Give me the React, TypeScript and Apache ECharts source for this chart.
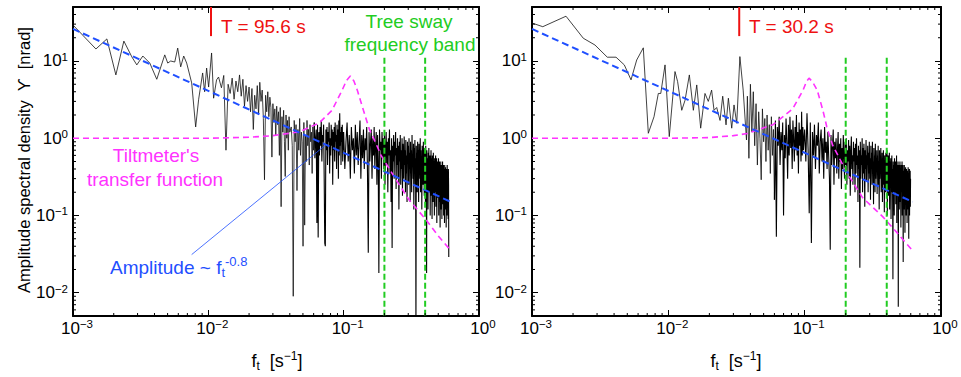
import React, { useEffect, useRef } from 'react';
import * as echarts from 'echarts';

const X_MIN = 0.001;
const X_MAX = 1;
const Y_MIN = 0.005;
const Y_MAX = 50;

// ---- Left panel spectrum (T = 95.6 s) ----
const LEFT_LOW: [number, number][] = [
  [0.001, 29.2], [0.001477, 14.3], [0.00178, 19.3], [0.002074, 6.6], [0.002376, 18.1],
  [0.002721, 11.3], [0.002962, 8.9], [0.00328, 11.6], [0.003693, 9.4], [0.004159, 5.8],
  [0.004764, 12.0], [0.005012, 9.4], [0.005272, 10], [0.005646, 9.7], [0.005939, 14.7],
  [0.006249, 8.4], [0.006577, 11.6], [0.006918, 9.4], [0.007534, 5.2], [0.00806, 1.4],
  [0.008483, 3.2], [0.009078, 7.0], [0.009391, 4.0], [0.009716, 8.1], [0.01005, 4.6],
  [0.01057, 12.7], [0.01094, 3.3], [0.0115, 5.7], [0.0119, 6.2],
];
const LEFT_MID_START = 0.0125;
const LEFT_MID_STEP = 0.0005;
const LEFT_MID = [
  4.5, 6.5, 0.7, 5.0, 3.8, 6.0, 3.2, 5.5, 4.0, 6.6,
  3.5, 5.8, 2.6, 4.8, 3.0, 4.6, 2.2, 4.4, 1.3, 3.6,
  2.4, 4.8, 2.0, 5.3, 3.0, 4.2, 1.8, 0.29, 3.6, 2.2,
  4.0, 1.9, 3.4, 2.5, 0.57, 2.8, 1.6, 2.4, 1.1, 2.6,
  1.5, 2.2, 0.6, 2.5, 0.13, 1.9, 1.2, 2.3, 0.9, 0.32,
  2.0, 1.0, 1.7, 0.7, 1.9, 1.2,
];
const LEFT_UP_START = 0.041;
const LEFT_UP_STEP = 0.0007;
const LEFT_UP = [
  1.4, 0.8, 0.009, 1.7, 0.9, 1.5, 0.21, 1.3, 0.7, 1.8,
  0.6, 1.2, 0.9, 0.04, 1.6, 0.075, 1.1, 0.5, 1.7, 0.8,
  1.3, 0.45, 1.5, 0.9, 1.2, 0.35, 1.4, 0.7, 1.6, 0.55,
  1.0, 1.3, 0.08, 1.5, 0.052, 1.2, 0.6, 1.4, 0.8, 1.7,
  0.5, 1.1, 0.9, 1.5, 0.3, 0.044, 0.04, 1.3, 0.7, 1.4,
  0.45, 1.2, 0.9, 1.6, 0.35, 1.0, 0.6, 1.5, 0.8, 1.3,
  0.25, 1.2, 0.7, 1.4, 0.5, 1.6, 0.9, 1.1, 0.4, 1.5,
  0.7, 1.3, 0.3, 1.7, 0.6, 2.1, 0.8, 1.2, 0.45, 1.4,
  0.9, 1.5, 0.5, 1.2, 0.7,
];
const LEFT_HIGH_START = 0.1;
const LEFT_HIGH_STEP = 0.002;
const LEFT_HIGH = [
  1.2, 0.4, 0.9, 1.6, 0.5, 1.1, 0.3, 1.4, 0.7, 1.0, 0.35, 1.5, 0.6, 1.2, 0.45, 0.9, 1.7, 0.3, 1.1, 0.55, 1.3, 0.4, 1.0, 0.7, 1.4,
  0.35, 0.033, 1.2, 0.5, 0.9, 1.3, 0.3, 1.0, 0.6, 1.4, 0.4, 0.8, 1.2, 0.25, 1.1, 0.5, 0.018, 1.3, 0.7, 0.9, 0.3, 1.2, 0.55, 1.0, 0.4,
  1.1, 0.25, 0.8, 1.2, 0.45, 0.9, 0.2, 1.0, 0.6, 1.3, 0.35, 0.7, 0.15, 1.0, 0.038, 0.8, 0.5, 1.1, 0.3, 0.9, 0.6, 1.2, 0.22, 0.75, 0.45,
  1.0, 0.3, 0.8, 0.12, 0.9, 0.5, 1.1, 0.25, 0.7, 0.4, 1.0, 0.18, 0.85, 0.55, 0.3, 1.05, 0.45, 0.7, 0.2, 0.95, 0.35, 0.6, 0.15, 0.9, 0.5,
  0.8, 0.25, 1.0, 0.4, 0.65, 0.15, 0.9, 0.35, 0.7, 0.2, 1.1, 0.45, 0.6, 0.3, 0.85, 0.12, 0.75, 0.4, 0.95, 0.25, 0.55, 0.003, 0.8, 0.35, 0.65,
  0.2, 0.9, 0.4, 0.7, 0.15, 0.85, 0.3, 0.6, 0.45, 1.0, 0.2, 0.7, 0.35, 0.55, 0.12, 0.8, 0.4, 0.65, 0.25, 0.9, 0.3, 0.5, 0.18, 0.75, 0.4,
  0.6, 0.15, 0.8, 0.3, 0.5, 0.018, 0.7, 0.25, 0.55, 0.4, 0.12, 0.65, 0.3, 0.75, 0.2, 0.45, 0.35, 0.6, 0.1, 0.5, 0.28, 0.7, 0.18, 0.55, 0.35,
  0.09, 0.6, 0.3, 0.45, 0.15, 0.65, 0.25, 0.5, 0.4, 0.1, 0.55, 0.2, 0.45, 0.3, 0.6, 0.13, 0.4, 0.25, 0.55, 0.08, 0.45, 0.3, 0.5, 0.17, 0.4,
  0.25, 0.55, 0.1, 0.4, 0.3, 0.5, 0.15, 0.45, 0.07, 0.35, 0.22, 0.5, 0.12, 0.4, 0.28, 0.45, 0.09, 0.38, 0.2, 0.5, 0.14, 0.33, 0.25, 0.45, 0.1,
  0.4, 0.2, 0.35, 0.08, 0.45, 0.25, 0.3, 0.12, 0.42, 0.18, 0.35, 0.07, 0.4, 0.22, 0.3, 0.1, 0.45, 0.2, 0.33, 0.13, 0.38, 0.09, 0.4, 0.25, 0.029,
];

// ---- Right panel spectrum (T = 30.2 s) ----
const RIGHT_LOW: [number, number][] = [
  [0.001, 31], [0.0012, 27.8], [0.001776, 38], [0.002378, 19.7], [0.002897, 16.1],
  [0.003567, 11.2], [0.004134, 11.2], [0.004754, 8.9], [0.005325, 5.7], [0.005861, 10.3],
  [0.006553, 14.8], [0.007131, 1.16], [0.007853, 1.9], [0.008445, 3.8], [0.0088, 3.8],
  [0.00946, 8.9], [0.01016, 1.05], [0.01119, 7.3], [0.0117, 5.4], [0.01254, 2.3],
  [0.01326, 3.1], [0.01426, 6.6], [0.01526, 2.3], [0.01616, 4.9], [0.01727, 1.35],
  [0.01857, 3.8], [0.01964, 3.0], [0.02077, 4.2], [0.02164, 2.3], [0.02263, 2.5],
  [0.02395, 1.7], [0.02505, 3.5], [0.0265, 1.49], [0.02757, 3.3], [0.02917, 1.35],
  [0.03033, 2.7], [0.03176, 1.56], [0.03348, 11.4], [0.0354, 4.2], [0.03743, 0.95],
];
const RIGHT_UP_START = 0.038;
const RIGHT_UP_STEP = 0.001;
const RIGHT_UP = [
  3.5, 0.55, 5.0, 1.2, 4.0, 0.8, 2.8, 0.45, 2.2, 1.0,
  0.29, 2.4, 0.9, 1.8, 0.5, 2.0, 0.7, 1.5, 0.35, 1.9,
  0.6, 1.3, 0.16, 1.7, 0.053, 1.4, 0.8, 1.9, 0.45, 1.2,
  0.7, 1.6, 0.1, 1.1, 0.55, 1.8, 0.9, 0.3, 1.5, 0.6,
  1.9, 0.75, 1.3, 0.4, 1.7, 0.95, 0.5, 1.4, 0.7, 2.0,
  0.6, 1.2, 0.35, 1.6, 0.8, 1.3, 0.5, 2.2, 0.6, 1.4,
  0.7, 1.0,
];
const RIGHT_HIGH_START = 0.1;
const RIGHT_HIGH_STEP = 0.002;
const RIGHT_HIGH = [
  1.3, 0.5, 2.1, 0.7, 0.107, 1.6, 0.044, 1.2, 0.6, 1.5, 0.4, 1.1, 0.8, 1.6, 0.35, 0.9, 1.3, 0.5, 1.0, 0.3, 1.4, 0.65, 0.9, 0.4, 1.2,
  0.6, 0.3, 0.036, 1.1, 0.45, 0.8, 1.3, 0.25, 0.9, 0.55, 1.0, 0.35, 0.7, 1.2, 0.3, 0.85, 0.5, 1.0, 0.22, 0.75, 0.4, 1.1, 0.6, 0.3, 0.9,
  0.45, 1.0, 0.25, 0.7, 0.5, 0.95, 0.3, 0.8, 0.18, 0.65, 1.05, 0.4, 0.6, 0.25, 0.9, 0.5, 0.75, 0.2, 0.85, 0.35, 1.0, 0.45, 0.6, 0.15, 0.8,
  0.4, 0.7, 0.021, 0.9, 0.3, 0.6, 0.45, 1.0, 0.2, 0.75, 0.35, 0.85, 0.5, 0.13, 0.7, 0.4, 0.95, 0.28, 0.6, 0.45, 0.8, 0.2, 0.65, 0.35, 0.9,
  0.3, 0.55, 0.16, 0.8, 0.4, 0.65, 0.25, 0.9, 0.35, 0.5, 0.14, 0.75, 0.45, 0.6, 0.2, 0.85, 0.3, 0.55, 0.4, 0.7, 0.19, 0.6, 0.35, 0.8, 0.25,
  0.5, 0.12, 0.7, 0.3, 0.6, 0.4, 0.75, 0.2, 0.5, 0.35, 0.65, 0.15, 0.55, 0.3, 0.7, 0.25, 0.45, 0.11, 0.6, 0.35, 0.5, 0.2, 0.65, 0.3, 0.45,
  0.25, 0.7, 0.1, 0.5, 0.35, 0.6, 0.18, 0.45, 0.3, 0.65, 0.12, 0.5, 0.25, 0.4, 0.55, 0.09, 0.45, 0.3, 0.6, 0.2, 0.4, 0.14, 0.015, 0.5, 0.25,
  0.45, 0.33, 0.1, 0.55, 0.2, 0.4, 0.3, 0.5, 0.14, 0.42, 0.25, 0.6, 0.08, 0.38, 0.3, 0.45, 0.18, 0.5, 0.0066, 0.4, 0.22, 0.45, 0.12, 0.35, 0.28,
  0.5, 0.15, 0.4, 0.25, 0.07, 0.45, 0.2, 0.35, 0.3, 0.5, 0.1, 0.4, 0.18, 0.45, 0.025, 0.38, 0.25, 0.33, 0.12, 0.45, 0.2, 0.4, 0.06, 0.35, 0.22,
  0.42, 0.15, 0.3, 0.1, 0.4, 0.2, 0.35, 0.08, 0.38, 0.25, 0.3, 0.12, 0.42, 0.17, 0.33, 0.05, 0.35, 0.22, 0.4, 0.1, 0.3, 0.18, 0.38, 0.13, 0.3,
];

// ---- Overlays ----
const LEFT_TRANSFER: [number, number][] = [
  [0.001, 1], [0.01, 1], [0.02, 1.03], [0.03, 1.08], [0.047, 1.21], [0.066, 1.58],
  [0.082, 2.3], [0.0975, 4.2], [0.105, 5.6], [0.112, 6.4], [0.119, 5.5], [0.126, 4.2],
  [0.14, 2.3], [0.155, 1.3], [0.17, 0.92], [0.189, 0.6], [0.244, 0.29], [0.304, 0.16],
  [0.406, 0.088], [0.506, 0.053], [0.62, 0.035],
];
const RIGHT_TRANSFER: [number, number][] = [
  [0.001, 1], [0.01, 1], [0.02, 1.02], [0.03, 1.08], [0.0378, 1.15], [0.0587, 1.5],
  [0.0816, 2.4], [0.0974, 4.2], [0.103, 5.4], [0.1076, 6.0], [0.114, 5.4], [0.1236, 4.2],
  [0.136, 2.3], [0.1454, 1.4], [0.161, 0.8], [0.204, 0.36], [0.266, 0.17], [0.375, 0.096],
  [0.476, 0.06], [0.61, 0.036],
];
const POWER_LAW: [number, number][] = [[0.001, 26], [0.62, 0.15]];
const SWAY_BAND = [0.2, 0.4];
const SWAY_TOP = 11;
const PERIODS = [95.6, 30.2];
const PERIOD_MARK = [50, 21];
const POINTER_LINE: [number, number][] = [[0.00753, 0.0312], [0.0731, 0.81]];
const DENSE_FROM = 0.06;

const FONT = "'Liberation Sans', Arial, Helvetica, sans-serif";
const MAGENTA = '#ff33ff';
const BLUE = '#1f4fff';
const GREEN = '#22cc22';
const RED = '#ee1111';

function seq(start: number, step: number, values: number[]): [number, number][] {
  return values.map((v, i) => [+(start + i * step).toFixed(6), v]);
}

function minorList(kFrom: number, kTo: number, lo: number, hi: number): number[] {
  const out: number[] = [];
  for (let k = kFrom; k <= kTo; k++) {
    for (let m = 2; m <= 9; m++) {
      const v = m * Math.pow(10, k);
      if (v > lo * 1.0001 && v < hi * 0.9999) out.push(v);
    }
  }
  return out;
}

const X_MINOR = minorList(-3, -1, X_MIN, X_MAX);
const Y_MINOR = minorList(-3, 1, Y_MIN, Y_MAX);

const expLabel = (v: number) => {
  const e = Math.log10(v);
  const r = Math.round(e);
  if (Math.abs(e - r) > 1e-6) return '';
  const s = r < 0 ? '\u2212' + -r : String(r);
  return `{b|10}{s|${s}}`;
};

const labelRich = {
  b: { fontSize: 17, fontFamily: FONT, color: '#000', lineHeight: 20 },
  s: { fontSize: 11.5, fontFamily: FONT, color: '#000', lineHeight: 14, verticalAlign: 'top' },
};

function axisBase(gridIndex: number, min: number, max: number) {
  return {
    type: 'log',
    logBase: 10,
    gridIndex,
    min,
    max,
    splitLine: { show: false },
    axisLine: { show: true, onZero: false, lineStyle: { color: '#000', width: 2 } },
    axisTick: { show: true, inside: true, length: 6, lineStyle: { color: '#000', width: 1 } },
    minorTick: { show: false },
  };
}

function buildAxes(gridIndex: number) {
  const xs = [
    {
      ...axisBase(gridIndex, X_MIN, X_MAX),
      position: 'bottom',
      axisLabel: { show: true, margin: 2, padding: [0, 0, 0, 8], formatter: expLabel, rich: labelRich },
    },
    { ...axisBase(gridIndex, X_MIN, X_MAX), position: 'top', axisLabel: { show: false } },
  ];
  const ys = [
    {
      ...axisBase(gridIndex, Y_MIN, Y_MAX),
      position: 'left',
      axisLabel: { show: true, margin: 5, formatter: expLabel, rich: labelRich },
    },
    { ...axisBase(gridIndex, Y_MIN, Y_MAX), position: 'right', axisLabel: { show: false } },
  ];
  return { xs, ys };
}

function panelSeries(
  p: number,
  spectrum: [number, number][],
  transfer: [number, number][],
  period: number,
) {
  const xi = p * 2;
  const yi = p * 2;
  const base = { xAxisIndex: xi, yAxisIndex: yi, symbol: 'none', silent: true, animation: false };
  const cut = spectrum.findIndex((d) => d[0] >= DENSE_FROM);
  const sparse = spectrum.slice(0, cut + 1);
  const dense = spectrum.slice(cut);
  const out: any[] = [
    {
      ...base,
      type: 'line',
      data: sparse,
      lineStyle: { color: '#111', width: 0.8 },
      z: 2,
    },
    {
      ...base,
      type: 'line',
      data: dense,
      lineStyle: { color: '#000', width: 1.1 },
      z: 2,
    },
    {
      ...base,
      type: 'line',
      data: transfer,
      lineStyle: { color: MAGENTA, width: 1.6, type: [6, 4] },
      z: 3,
    },
    {
      ...base,
      type: 'line',
      data: POWER_LAW,
      lineStyle: { color: BLUE, width: 2, type: [7, 4] },
      z: 4,
    },
    ...SWAY_BAND.map((f) => ({
      ...base,
      type: 'line',
      data: [[f, SWAY_TOP], [f, Y_MIN]],
      lineStyle: { color: GREEN, width: 2, type: [6, 3] },
      z: 5,
    })),
    {
      ...base,
      type: 'line',
      data: [[1 / period, PERIOD_MARK[0]], [1 / period, PERIOD_MARK[1]]],
      lineStyle: { color: RED, width: 2 },
      z: 6,
    },
    {
      ...base,
      type: 'custom',
      clip: false,
      data: X_MINOR.map((v) => [v, 1]),
      renderItem: (params: any, api: any) => {
        const cs = params.coordSys;
        const pt = api.coord([api.value(0), 1]);
        const st = { stroke: '#000', lineWidth: 1 };
        return {
          type: 'group',
          children: [
            { type: 'line', shape: { x1: pt[0], y1: cs.y + cs.height, x2: pt[0], y2: cs.y + cs.height - 3 }, style: st },
            { type: 'line', shape: { x1: pt[0], y1: cs.y, x2: pt[0], y2: cs.y + 3 }, style: st },
          ],
        };
      },
      z: 7,
    },
    {
      ...base,
      type: 'custom',
      clip: false,
      data: Y_MINOR.map((v) => [0.01, v]),
      renderItem: (params: any, api: any) => {
        const cs = params.coordSys;
        const pt = api.coord([0.01, api.value(1)]);
        const st = { stroke: '#000', lineWidth: 1 };
        return {
          type: 'group',
          children: [
            { type: 'line', shape: { x1: cs.x, y1: pt[1], x2: cs.x + 3, y2: pt[1] }, style: st },
            { type: 'line', shape: { x1: cs.x + cs.width, y1: pt[1], x2: cs.x + cs.width - 3, y2: pt[1] }, style: st },
          ],
        };
      },
      z: 7,
    },
  ];
  if (p === 0) {
    out.push({
      ...base,
      type: 'line',
      data: POINTER_LINE,
      lineStyle: { color: BLUE, width: 0.8 },
      z: 5,
    });
  }
  return out;
}

const txt = (x: number, y: number, text: string, color: string, size: number, align = 'left') => ({
  type: 'text',
  x,
  y,
  silent: true,
  style: {
    text,
    fill: color,
    font: `${size}px ${FONT}`,
    align,
    verticalAlign: 'middle',
  },
});

export default function App() {
  const ref = useRef<HTMLDivElement>(null);
  useEffect(() => {
    if (!ref.current) return;
    const chart = echarts.init(ref.current, undefined, { renderer: 'svg' });
    const leftSpec = [
      ...LEFT_LOW,
      ...seq(LEFT_MID_START, LEFT_MID_STEP, LEFT_MID),
      ...seq(LEFT_UP_START, LEFT_UP_STEP, LEFT_UP),
      ...seq(LEFT_HIGH_START, LEFT_HIGH_STEP, LEFT_HIGH),
    ];
    const rightSpec = [
      ...RIGHT_LOW,
      ...seq(RIGHT_UP_START, RIGHT_UP_STEP, RIGHT_UP),
      ...seq(RIGHT_HIGH_START, RIGHT_HIGH_STEP, RIGHT_HIGH),
    ];
    const a0 = buildAxes(0);
    const a1 = buildAxes(1);
    const subRich = {
      a: { fontSize: 18, fontFamily: FONT, fill: '#000', lineHeight: 22 },
      t: { fontSize: 12, fontFamily: FONT, fill: '#000', lineHeight: 12, verticalAlign: 'bottom' },
      u: { fontSize: 12, fontFamily: FONT, fill: '#000', lineHeight: 14, verticalAlign: 'top' },
    };
    const xTitle = (x: number) => ({
      type: 'text',
      x,
      y: 361,
      silent: true,
      style: {
        text: '{a|f}{t|t}{a|  [s}{u|\u22121}{a|]}',
        rich: subRich,
        align: 'center',
        verticalAlign: 'middle',
      },
    });
    const ampRich = {
      a: { fontSize: 19, fontFamily: FONT, fill: BLUE, lineHeight: 24 },
      t: { fontSize: 13, fontFamily: FONT, fill: BLUE, lineHeight: 13, verticalAlign: 'bottom' },
      u: { fontSize: 13, fontFamily: FONT, fill: BLUE, lineHeight: 15, verticalAlign: 'top' },
    };
    chart.setOption({
      animation: false,
      backgroundColor: '#fff',
      grid: [
        { left: 73, top: 7, width: 406, height: 309, containLabel: false },
        { left: 532, top: 7, width: 409, height: 309, containLabel: false },
      ],
      xAxis: [...a0.xs, ...a1.xs],
      yAxis: [...a0.ys, ...a1.ys],
      series: [
        ...panelSeries(0, leftSpec, LEFT_TRANSFER, PERIODS[0]),
        ...panelSeries(1, rightSpec, RIGHT_TRANSFER, PERIODS[1]),
      ],
      graphic: [
        txt(221, 26, `T = ${PERIODS[0]} s`, RED, 19),
        txt(749, 26, `T = ${PERIODS[1]} s`, RED, 19),
        txt(409, 21, 'Tree sway', GREEN, 19, 'center'),
        txt(410, 44, 'frequency band', GREEN, 19, 'center'),
        txt(156, 155, "Tiltmeter's", MAGENTA, 19, 'center'),
        txt(155, 179, 'transfer function', MAGENTA, 19, 'center'),
        {
          type: 'text',
          x: 110,
          y: 267,
          silent: true,
          style: {
            text: '{a|Amplitude ~ f}{t|t}{u|-0.8}',
            rich: ampRich,
            fill: BLUE,
            align: 'left',
            verticalAlign: 'middle',
          },
        },
        xTitle(277),
        xTitle(736),
        {
          type: 'text',
          x: 24,
          y: 160,
          rotation: Math.PI / 2,
          silent: true,
          style: {
            text: 'Amplitude spectral density  \u03D2  [nrad]',
            fill: '#000',
            font: `16.5px ${FONT}`,
            align: 'center',
            verticalAlign: 'middle',
          },
        },
      ],
    });
    return () => chart.dispose();
  }, []);
  return (
    <div
      ref={ref}
      style={{ position: 'absolute', left: 0, top: 0, width: 961, height: 377, background: '#fff' }}
    />
  );
}
